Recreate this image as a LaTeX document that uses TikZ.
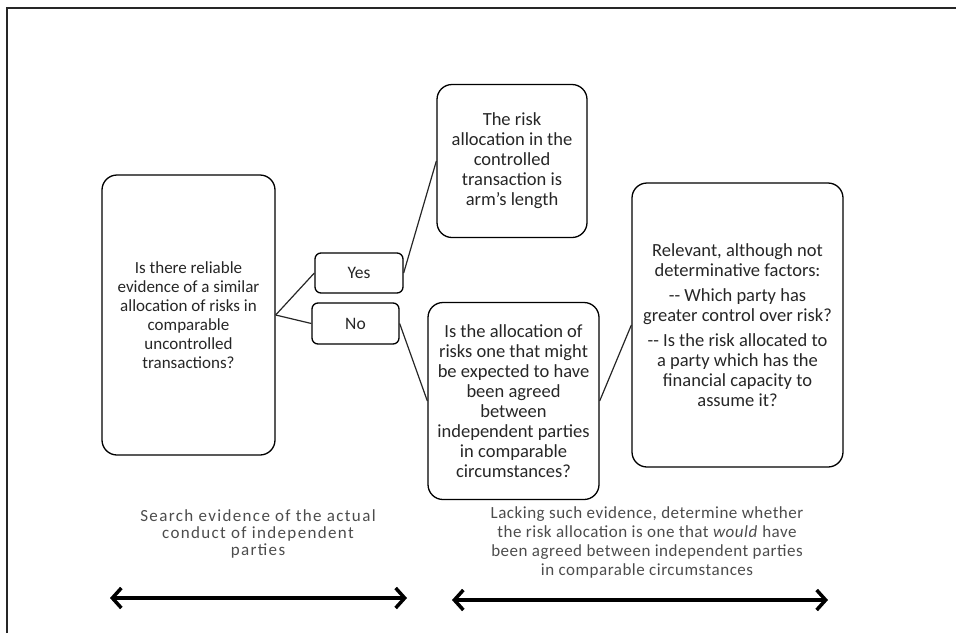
\documentclass[tikz,border=0pt]{standalone}
\usepackage{fontspec}
\setmainfont{Carlito}
\usetikzlibrary{arrows.meta}

\begin{document}
\begin{tikzpicture}[x=1pt,y=-1pt]

      \useasboundingbox (0,0) rectangle (956,633);
      \draw[line width=1.6pt, black!85] (7,633) -- (7,8) -- (956,8);

      \begin{scope}[every node/.style={draw, line width=1.3pt, rounded corners=15pt,
          align=center, text=black!85, font=\fontsize{18.5}{20}\selectfont,
          inner sep=2pt}]
        \node[minimum width=173pt, minimum height=280pt, font=\fontsize{17}{19}\selectfont] (q1) at (188.5,315)
          {Is there reliable\\ evidence of a similar\\ allocation of risks in\\ comparable\\ uncontrolled\\ transactions?};
        \node[minimum width=88pt, minimum height=40pt, rounded corners=6pt, font=\fontsize{17.5}{20}\selectfont] (yes) at (359,273) {Yes};
        \node[minimum width=87pt, minimum height=41pt, rounded corners=6pt, font=\fontsize{17.5}{20}\selectfont] (no) at (355.5,323.5) {No};
        \node[minimum width=150pt, minimum height=153pt] (arm) at (512,161)
          {The risk\\ allocation in the\\ controlled\\ transaction is\\ arm’s length};
        \node[minimum width=171pt, minimum height=197pt] (q2) at (513.5,401)
          {Is the allocation of\\ risks one that might\\ be expected to have\\ been agreed\\ between\\ independent parties\\ in comparable\\ circumstances?};
        \node[minimum width=211pt, minimum height=284pt] (fac) at (737.5,325)
          {Relevant, although not\\ determinative factors:\\[5pt]
           -{}- Which party has\\ greater control over risk?\\[5pt]
           -{}- Is the risk allocated to\\ a party which has the\\ financial capacity to\\ assume it?};
      \end{scope}

      \begin{scope}[every edge/.style={draw, line width=1.2pt, black!85}]
        \path (q1.east)  edge (yes.west);
        \path (q1.east)  edge (no.west);
        \path (yes.east) edge (arm.west);
        \path (no.east)  edge (q2.west);
        \path (q2.east)  edge (fac.west);
      \end{scope}

      % bottom notes
      \begin{scope}[every node/.style={align=center, text=black!70}]
        \node[font=\fontsize{17}{17}\selectfont\addfontfeature{LetterSpace=8}] (actual) at (258,534)
          {Search evidence of the actual\\ conduct of independent\\ parties};
        \node[font=\fontsize{17}{19}\selectfont\addfontfeature{LetterSpace=3}] (would) at (647,542)
          {Lacking such evidence, determine whether\\ the risk allocation is one that \textit{would} have\\ been agreed between independent parties\\ in comparable circumstances};
      \end{scope}

      \coordinate (a1) at (110,598);
      \coordinate (a2) at (407,598);
      \coordinate (b1) at (452,600);
      \coordinate (b2) at (828,600);
      \draw[line width=3.5pt, {Straight Barb[length=9pt,width=20pt]}-{Straight Barb[length=9pt,width=20pt]}] (a1) -- (a2);
      \draw[line width=3.5pt, {Straight Barb[length=9pt,width=20pt]}-{Straight Barb[length=9pt,width=20pt]}] (b1) -- (b2);

    \end{tikzpicture}
\end{document}
